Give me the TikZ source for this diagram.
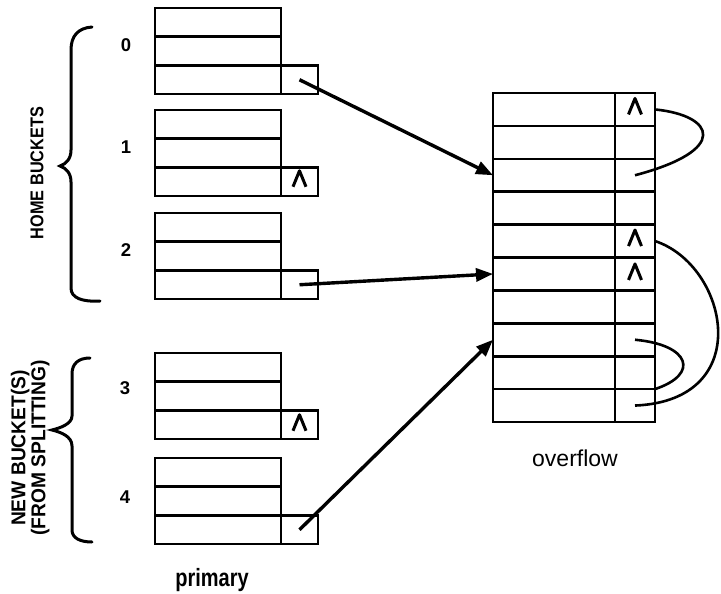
\documentclass[tikz,border=0pt]{standalone}
\usepackage{fontspec}
\usepackage{graphicx}
\newfontfamily\labelfont{Liberation Sans}
\usetikzlibrary{arrows.meta}

\tikzset{
  cell/.style={draw, line width=2.6pt, rectangle, inner sep=0pt, outer sep=0pt, anchor=north west},
  datacell/.style={cell, minimum width=126pt, minimum height=28.7pt},
  ptrcell/.style={cell, minimum width=37pt, minimum height=28.7pt},
  ovdata/.style={cell, minimum width=122pt, minimum height=32.9pt},
  ovptr/.style={cell, minimum width=40pt, minimum height=32.9pt},
  ptrarrow/.style={line width=3.4pt, -{Triangle[length=17pt,width=13pt]}},
  link/.style={line width=2.6pt},
  bracepath/.style={line width=3pt, line cap=round},
  idx/.style={font=\labelfont\bfseries\fontsize{18.5}{18.5}\selectfont, inner sep=0pt},
  nilmark/.pic={\draw[line width=3pt, line join=round] (-6.5,8) -- (0,-8) -- (6.5,8);}
}

\begin{document}
\begin{tikzpicture}[x=1pt,y=-1pt]
\useasboundingbox (0,0) rectangle (721,594);

% primary buckets: three record slots and a pointer slot each
\foreach \k/\t in {0/8,1/110,2/213,3/353,4/458} {
  \node[datacell] (b\k-r1) at (155,\t) {};
  \node[datacell] (b\k-r2) at (155,{\t+28.7}) {};
  \node[datacell] (b\k-r3) at (155,{\t+57.4}) {};
  \node[ptrcell]  (b\k-p)  at (281,{\t+57.4}) {};
}

% bucket numbers
\node[idx] (n0) at (126,45)  {0};
\node[idx] (n1) at (126,147) {1};
\node[idx] (n2) at (126,250) {2};
\node[idx] (n3) at (125,388) {3};
\node[idx] (n4) at (125,497) {4};

% overflow area: ten records with pointer slots
\foreach \r in {1,...,10} {
  \node[ovdata] (ov\r)  at (493,{93+(\r-1)*32.9}) {};
  \node[ovptr]  (ovp\r) at (615,{93+(\r-1)*32.9}) {};
}

% nil pointers
\path ([yshift=3pt]b1-p.center) pic {nilmark};
\path ([yshift=2pt]b3-p.center) pic {nilmark};
\path ([yshift=3pt]ovp1.center) pic {nilmark};
\path ([yshift=3pt]ovp5.center) pic {nilmark};
\path ([yshift=2pt]ovp6.center) pic {nilmark};

% pointers from primary buckets into the overflow area
\draw[ptrarrow] (b0-p.center) -- (ov3.west);
\draw[ptrarrow] (b2-p.center) -- (ov6.west);
\draw[ptrarrow] (b4-p.center) -- (ov8.west);

% chains inside the overflow area
\draw[link] (ovp1.east) .. controls +(60,6) and +(95,-25) .. (ovp3.center);
\draw[link] (ovp5.east) .. controls +(73,24) and +(122,-5) .. (ovp10.center);
\draw[link] (ovp8.center) .. controls +(55,5) and +(45,-15) .. (ovp9.south east);

% braces
\draw[bracepath] (92,27) .. controls (78,28) and (71,36) .. (71,50) -- (71,150)
  .. controls (71,159) and (66,164) .. (60,166)
  .. controls (66,168) and (71,173) .. (71,182) -- (71,288)
  .. controls (71,298) and (82,302) .. (100,301);
\draw[bracepath] (90,358) .. controls (78,358) and (72,364) .. (72,374) -- (72,416)
  .. controls (72,424) and (60,428) .. (52,430)
  .. controls (60,432) and (72,436) .. (72,446) -- (72,530)
  .. controls (72,538) and (80,542) .. (92,542);

% group labels
\node[rotate=90, inner sep=0pt, font=\labelfont\bfseries\fontsize{18.5}{18.5}\selectfont] (home) at (37,173)
  {\scalebox{0.88}[1]{HOME BUCKETS}};
\node[rotate=90, inner sep=0pt, font=\labelfont\bfseries\fontsize{20}{19}\selectfont] (newb) at (31,448)
  {\scalebox{0.96}[1]{\begin{tabular}{@{}c@{}}NEW BUCKET(S)\\(FROM SPLITTING)\end{tabular}}};

% area captions
\node[anchor=base, font=\labelfont\fontsize{23}{23}\selectfont] (ovcap) at (575,466) {overflow};
\node[anchor=base, font=\labelfont\bfseries\fontsize{25}{25}\selectfont] (prcap) at (212,586)
  {\scalebox{0.8}[1]{primary}};
\end{tikzpicture}
\end{document}
